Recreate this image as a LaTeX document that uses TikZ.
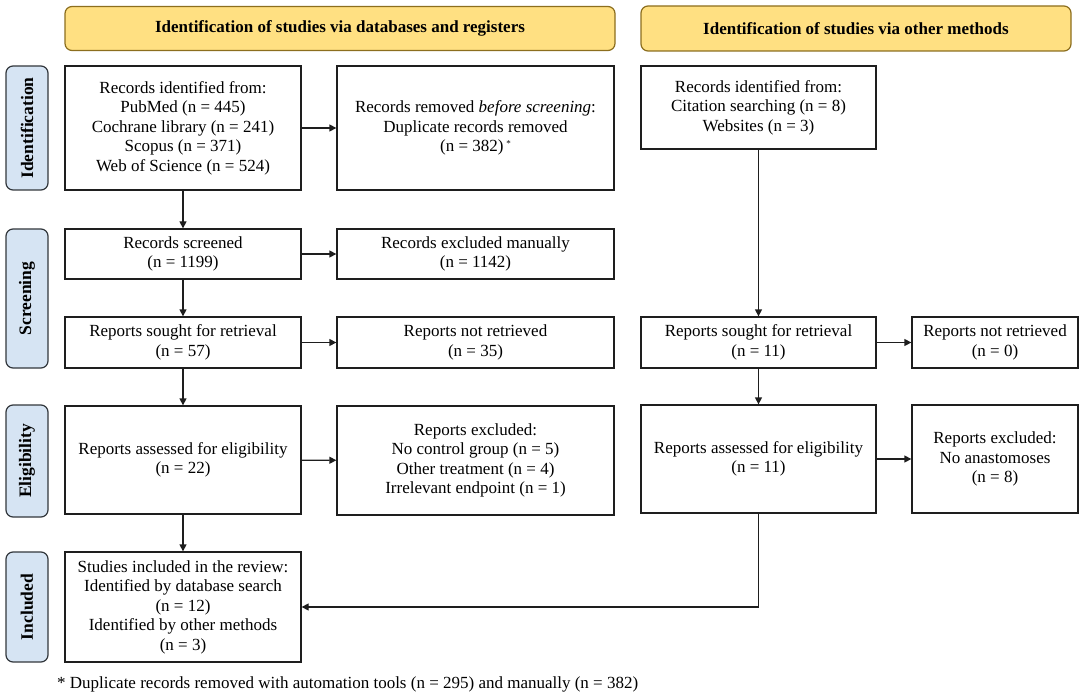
\documentclass[tikz,border=0pt]{standalone}
\usepackage{fontspec}
\setmainfont{Liberation Serif}
\usetikzlibrary{arrows.meta,positioning}
\definecolor{hdrfill}{RGB}{255,224,130}
\definecolor{hdrdraw}{RGB}{140,110,30}
\definecolor{sidefill}{RGB}{214,228,243}
\definecolor{sidedraw}{RGB}{50,55,60}
\definecolor{linec}{RGB}{30,30,30}
\begin{document}
\begin{tikzpicture}[x=1pt,y=-1pt,
  box/.style={draw=linec,line width=1.3pt,fill=white,rectangle,align=center,inner sep=0pt,
    font=\fontsize{17}{19.5}\selectfont},
  hdr/.style={draw=hdrdraw,line width=1.2pt,fill=hdrfill,rounded corners=7pt,inner sep=0pt,
    font=\bfseries\fontsize{17}{19}\selectfont},
  side/.style={draw=sidedraw,line width=1.2pt,fill=sidefill,rounded corners=7pt,inner sep=0pt,
    rotate=90,font=\bfseries\fontsize{17.5}{19}\selectfont},
  arr/.style={draw=linec,line width=1.3pt,-{Triangle[length=7pt,width=7pt]}}]
\useasboundingbox (0,0) rectangle (1080,698);
% headers
\node[hdr,minimum width=550pt,minimum height=44pt] (h1) at (340,28.5) {Identification of studies via databases and registers};
\node[hdr,minimum width=430pt,minimum height=45pt] (h2) at (856,28.5) {Identification of studies via other methods};
% side labels (rotated: width = vertical extent)
\node[side,minimum width=124pt,minimum height=42pt] (s1) at (27,128) {Identification};
\node[side,minimum width=139pt,minimum height=42pt] (s2) at (27,298.5) {Screening};
\node[side,minimum width=112pt,minimum height=42pt] (s3) at (27,461) {Eligibility};
\node[side,minimum width=110pt,minimum height=42pt] (s4) at (27,607) {Included};
% left column
\node[box,minimum width=236pt,minimum height=124pt] (a) at (183,128) {Records identified from:\\PubMed (n = 445)\\Cochrane library (n = 241)\\Scopus (n = 371)\\Web of Science (n = 524)};
\node[box,minimum width=236pt,minimum height=50pt] (scr) at (183,254) {Records screened\\(n = 1199)};
\node[box,minimum width=236pt,minimum height=51pt] (sgt) at (183,342.5) {Reports sought for retrieval\\(n = 57)};
\node[box,minimum width=236pt,minimum height=108pt] (asm) at (183,460) {Reports assessed for eligibility\\(n = 22)};
\node[box,minimum width=236pt,minimum height=110pt] (inc) at (183,607) {Studies included in the review:\\Identified by database search\\(n = 12)\\Identified by other methods\\(n = 3)};
% middle column
\node[box,minimum width=277pt,minimum height=124pt] (b) at (475.5,128) {Records removed \textit{before screening}:\\Duplicate records removed\\(n = 382)\,\raisebox{0.6ex}{\fontsize{9}{9}\selectfont *}};
\node[box,minimum width=277pt,minimum height=50pt] (exc) at (475.5,254) {Records excluded manually\\(n = 1142)};
\node[box,minimum width=277pt,minimum height=51pt] (nrt) at (475.5,342.5) {Reports not retrieved\\(n = 35)};
\node[box,minimum width=277pt,minimum height=109pt] (rex) at (475.5,460.5) {Reports excluded:\\No control group (n = 5)\\Other treatment (n = 4)\\Irrelevant endpoint (n = 1)};
% right columns
\node[box,minimum width=235pt,minimum height=83pt] (c) at (758.5,107.5) {Records identified from:\\Citation searching (n = 8)\\Websites (n = 3)};
\node[box,minimum width=235pt,minimum height=51pt] (sgt2) at (758.5,342.5) {Reports sought for retrieval\\(n = 11)};
\node[box,minimum width=166pt,minimum height=51pt] (nrt2) at (995,342.5) {Reports not retrieved\\(n = 0)};
\node[box,minimum width=235pt,minimum height=108pt] (asm2) at (758.5,459) {Reports assessed for eligibility\\(n = 11)};
\node[box,minimum width=166pt,minimum height=108pt] (rex2) at (995,459) {Reports excluded:\\No anastomoses\\(n = 8)};
% footnote
\node[anchor=west,inner sep=0pt,font=\fontsize{17}{19.5}\selectfont] (fn) at (57,684) {* Duplicate records removed with automation tools (n = 295) and manually (n = 382)};
% connectors
\draw[arr] (a) -- (b);
\draw[arr] (a) -- (scr);
\draw[arr] (scr) -- (exc);
\draw[arr] (scr) -- (sgt);
\draw[arr] (sgt) -- (nrt);
\draw[arr] (sgt) -- (asm);
\draw[arr] (asm) -- (rex);
\draw[arr] (asm) -- (inc);
\draw[arr] (c) -- (sgt2);
\draw[arr] (sgt2) -- (nrt2);
\draw[arr] (sgt2) -- (asm2);
\draw[arr] (asm2) -- (rex2);
\draw[arr] (asm2.south) |- (inc.east);
\end{tikzpicture}
\end{document}
